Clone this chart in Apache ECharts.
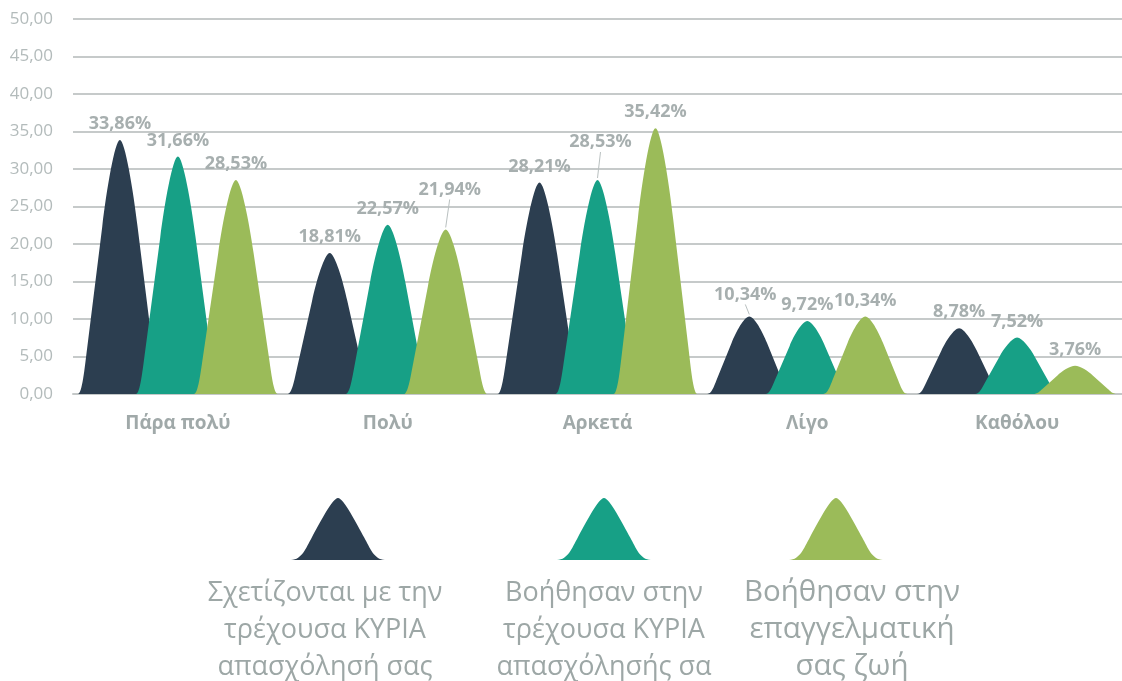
<!DOCTYPE html>
<html>
<head>
<meta charset="utf-8">
<script src="https://cdn.jsdelivr.net/npm/echarts@6/dist/echarts.min.js"></script>
<style>
  html, body { margin: 0; padding: 0; background: #ffffff; }
  #main { width: 1122px; height: 681px; }
</style>
</head>
<body>
<div id="main"></div>
<script>
let categories = ["Πάρα πολύ", "Πολύ", "Αρκετά", "Λίγο", "Καθόλου"];
let seriesNames = [
  "Σχετίζονται με την τρέχουσα ΚΥΡΙΑ απασχόλησή σας",
  "Βοήθησαν στην τρέχουσα ΚΥΡΙΑ απασχόλησής σα",
  "Βοήθησαν στην επαγγελματική σας ζωή"
];
let legendLines = [
  "Σχετίζονται με την\nτρέχουσα ΚΥΡΙΑ\nαπασχόλησή σας",
  "Βοήθησαν στην\nτρέχουσα ΚΥΡΙΑ\nαπασχόλησής σα",
  "Βοήθησαν στην\nεπαγγελματική\nσας ζωή"
];
let relatedMain = [33.86, 18.81, 28.21, 10.34, 8.78];
let helpedMain = [31.66, 22.57, 28.53, 9.72, 7.52];
let helpedCareer = [28.53, 21.94, 35.42, 10.34, 3.76];
let yTicks = [0, 5, 10, 15, 20, 25, 30, 35, 40, 45, 50];

// label nudges (px) for the few labels excel pushed up with a leader line
let labelNudge = [
  [[0, 0], [0, 0], [0, 0], [-4, -6], [0, 0]],
  [[0, 0], [0, 0], [3, -22], [0, 0], [0, 0]],
  [[0, 0], [4, -24], [0, 0], [0, 0], [0, 0]]
];

let color = ["#2C3E50", "#17A086", "#9BBB59"];
let bell = "path://M0,100 C5,100 8,90 11,82 L29,34 C34,20 44,0 50,0 C56,0 66,20 71,34 L89,82 C92,90 95,100 100,100 Z";
let bellIcon = "path://M0,100 C12,99 16,80 22,64 C30,42 44,0 50,0 C56,0 70,42 78,64 C84,80 88,99 100,100 Z";
let barW = 84;
let barStep = 58;

let fmt = function (v) {
  return v.toFixed(2).replace(".", ",");
};

let chart = echarts.init(document.getElementById("main"));

let values = [relatedMain, helpedMain, helpedCareer];
let series = values.map(function (vals, s) {
  return {
    name: seriesNames[s],
    type: "pictorialBar",
    symbol: bell,
    barWidth: barW,
    barGap: ((barStep - barW) / barW * 100) + "%",
    itemStyle: { color: color[s] },
    label: {
      show: true,
      position: "top",
      distance: 7,
      color: "#A7AFAF",
      fontFamily: "Open Sans",
      fontWeight: "bold",
      fontSize: 18,
      formatter: function (p) {
        return fmt(p.value) + "%";
      }
    },
    data: vals.map(function (v, i) {
      return { value: v, label: { offset: labelNudge[s][i] } };
    }),
    z: 2 + s
  };
});

// one legend per series so each icon can sit over its own caption
let legendCenters = [338, 604, 836];
let textCenters = [325, 604, 852];
let textSizes = [27, 27, 29.5];
let legends = legendCenters.map(function (cx, s) {
  return {
    data: [seriesNames[s]],
    left: cx - 47,
    top: 498,
    icon: bellIcon,
    itemWidth: 94,
    itemHeight: 62,
    symbolKeepAspect: false,
    selectedMode: false,
    padding: 0,
    formatter: function () { return ""; }
  };
});
let graphic = textCenters.map(function (cx, s) {
  return {
    type: "text",
    x: cx,
    y: 630,
    style: {
      text: legendLines[s],
      fill: "#9DA7A6",
      font: textSizes[s] + "px 'Open Sans'",
      textAlign: "center",
      textVerticalAlign: "middle",
      lineHeight: 37
    }
  };
});

chart.setOption({
  backgroundColor: "#ffffff",
  animation: false,
  grid: { left: 73, top: 19, width: 1057, height: 375, containLabel: false },
  legend: legends,
  xAxis: {
    type: "category",
    data: categories,
    axisTick: { show: false },
    axisLine: { lineStyle: { color: "#C4C8C8", width: 2 } },
    axisLabel: {
      margin: 20,
      color: "#A0A9A9",
      fontFamily: "Open Sans",
      fontWeight: "bold",
      fontSize: 19
    }
  },
  yAxis: {
    type: "value",
    min: yTicks[0],
    max: yTicks[yTicks.length - 1],
    interval: yTicks[1] - yTicks[0],
    axisLine: { show: false },
    axisTick: { show: false },
    splitLine: { lineStyle: { color: "#C6CACA", width: 2 } },
    axisLabel: {
      margin: 20,
      color: "#B3BBBB",
      fontFamily: "Open Sans",
      fontSize: 17,
      formatter: function (v) { return fmt(v); }
    }
  },
  series: series,
  graphic: graphic
});

// thin leader lines for the labels that were lifted off their peak
let leaders = [];
values.forEach(function (vals, s) {
  vals.forEach(function (v, i) {
    let n = labelNudge[s][i];
    if (n[1] > -5) {
      return;
    }
    let p = chart.convertToPixel({ xAxisIndex: 0, yAxisIndex: 0 }, [i, v]);
    let px = p[0] + (s - 1) * barStep;
    leaders.push({
      type: "line",
      z: 10,
      shape: { x1: px + n[0], y1: p[1] - 6 + n[1], x2: px, y2: p[1] - 2 },
      style: { stroke: "#B9C0C0", lineWidth: 1 }
    });
  });
});
chart.setOption({ graphic: graphic.concat(leaders) });
</script>
</body>
</html>
